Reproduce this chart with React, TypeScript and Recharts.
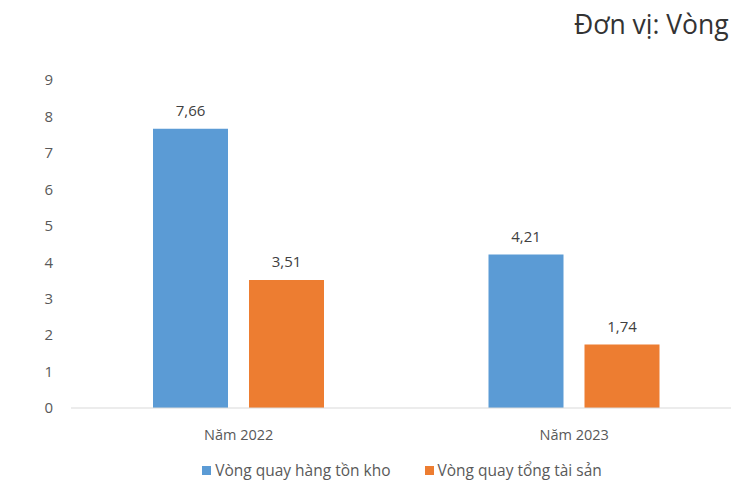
import React from 'react';
import { BarChart, Bar, XAxis, YAxis, Legend, LabelList } from 'recharts';

const categories = ['Năm 2022', 'Năm 2023'];
const inventoryTurnover = [7.66, 4.21];
const assetTurnover = [3.51, 1.74];
const yTicks = [0, 1, 2, 3, 4, 5, 6, 7, 8, 9];

const data = categories.map((name, i) => ({
  name,
  inventory: inventoryTurnover[i],
  assets: assetTurnover[i],
}));

const FONT = '"Open Sans", "Noto Sans", sans-serif';
const fmt = (v: any) => String(v).replace('.', ',');

// legend drawn as two square swatches + label, like the spreadsheet export
const renderLegend = (props: any) => {
  const { payload } = props;
  return (
    <div style={{ display: 'flex', justifyContent: 'center', gap: 34, fontFamily: FONT, fontSize: 15.5, color: '#595959' }}>
      {payload.map((entry: any) => (
        <div key={entry.value} style={{ display: 'flex', alignItems: 'center' }}>
          <span style={{ width: 9, height: 9, background: entry.color, marginRight: 4, display: 'inline-block' }} />
          <span>{entry.value}</span>
        </div>
      ))}
    </div>
  );
};

export default function App() {
  return (
    <div style={{ position: 'absolute', left: 0, top: 0, width: 731, height: 481, overflow: 'hidden', background: '#fff', fontFamily: FONT }}>
      <div style={{ position: 'absolute', left: 574, top: 6, fontSize: 26.5, color: '#333', fontFamily: FONT, whiteSpace: 'nowrap' }}>
        Đơn vị: Vòng
      </div>
      <BarChart
        width={750}
        height={481}
        data={data}
        margin={{ top: 80, right: 8, left: 0, bottom: 11 }}
        barSize={75}
        barGap={21}
      >
        <XAxis
          dataKey="name"
          axisLine={{ stroke: '#D9D9D9' }}
          tickLine={false}
          tick={{ fill: '#595959', fontSize: 14.5, fontFamily: FONT }}
          tickMargin={16}
          height={40}
        />
        <YAxis
          domain={[0, 9]}
          ticks={yTicks}
          width={71}
          axisLine={false}
          tickLine={false}
          tickMargin={12}
          tick={{ fill: '#595959', fontSize: 15, fontFamily: FONT }}
        />
        <Legend
          verticalAlign="bottom"
          content={renderLegend}
          wrapperStyle={{ position: 'absolute', top: 459, left: 0, width: 804 }}
        />
        <Bar dataKey="inventory" name="Vòng quay hàng tồn kho" fill="#5B9BD5" isAnimationActive={false}>
          <LabelList dataKey="inventory" position="top" offset={13} formatter={fmt} style={{ fill: '#404040', fontSize: 15, fontFamily: FONT }} />
        </Bar>
        <Bar dataKey="assets" name="Vòng quay tổng tài sản" fill="#ED7D31" isAnimationActive={false}>
          <LabelList dataKey="assets" position="top" offset={13} formatter={fmt} style={{ fill: '#404040', fontSize: 15, fontFamily: FONT }} />
        </Bar>
      </BarChart>
    </div>
  );
}
